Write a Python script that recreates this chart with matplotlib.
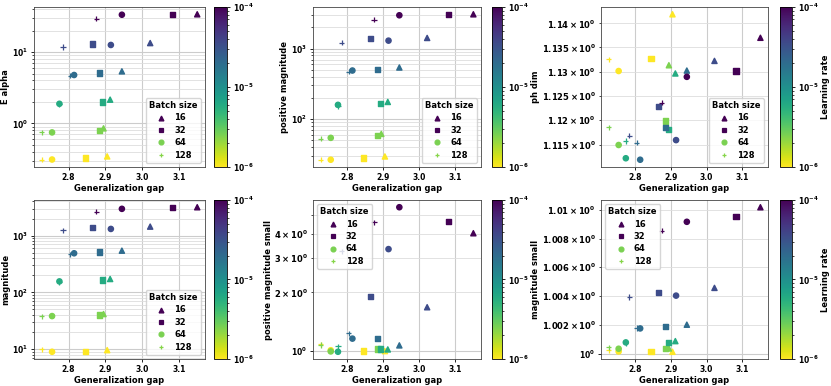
import numpy as np
import matplotlib
matplotlib.use('Agg')
import matplotlib.pyplot as plt
from matplotlib.colors import LogNorm
from matplotlib.lines import Line2D
from matplotlib.ticker import NullFormatter

plt.rcParams['font.family'] = ['DejaVu Sans']
plt.rcParams['font.weight'] = 'bold'
plt.rcParams['axes.labelweight'] = 'bold'
plt.rcParams['font.size'] = 6

# 学习率 (颜色) 和 batch size (形状)
lrs = [1e-6, 2.5e-6, 6e-6, 2e-5, 3.5e-5, 1e-4]
batch_sizes = [16, 32, 64, 128]
markers = ['^', 's', 'o', '+']

# generalization gap, rows = batch size, cols = learning rate
gap = [[2.905, 2.895, 2.913, 2.945, 3.022, 3.150],
       [2.845, 2.885, 2.893, 2.885, 2.865, 3.082],
       [2.755, 2.755, 2.775, 2.815, 2.915, 2.945],
       [2.727, 2.727, 2.775, 2.805, 2.785, 2.875]]

e_alpha = [[0.343, 0.85, 2.15, 5.37, 13.4, 34.0],
           [0.325, 0.795, 1.99, 5.08, 13.0, 34.0],
           [0.31, 0.745, 1.88, 4.77, 12.6, 33.5],
           [0.308, 0.745, 1.85, 4.66, 11.8, 29.4]]

pos_mag = [[29.4, 61.5, 175, 540, 1420, 3080],
           [27.9, 57.6, 166, 511, 1380, 3080],
           [26.4, 54.0, 159, 489, 1300, 2980],
           [26.4, 52.8, 152, 468, 1220, 2580]]

ph_dim = [[1.1419, 1.1313, 1.1296, 1.1302, 1.1322, 1.1370],
          [1.1327, 1.1198, 1.1180, 1.1185, 1.1228, 1.1301],
          [1.1301, 1.1149, 1.1122, 1.1119, 1.1159, 1.1289],
          [1.1325, 1.1185, 1.1157, 1.1154, 1.1168, 1.1236]]

magnitude = [[9.6, 41.5, 172, 543, 1440, 3160],
             [9.1, 39.8, 165, 515, 1370, 3080],
             [8.98, 38.2, 156, 488, 1310, 2960],
             [9.87, 37.7, 150, 469, 1230, 2620]]

pos_mag_small = [[1.0, 1.024, 1.02, 1.07, 1.68, 4.03],
                 [1.0, 1.024, 1.024, 1.159, 1.90, 4.65],
                 [1.01, 0.996, 0.992, 1.159, 3.34, 5.48],
                 [1.083, 1.075, 1.06, 1.235, 3.26, 4.58]]

mag_small = [[1.00012, 1.00035, 1.00086, 1.0020, 1.00456, 1.01019],
             [1.00014, 1.00033, 1.00079, 1.00186, 1.00421, 1.00956],
             [1.00014, 1.00033, 1.00077, 1.00174, 1.00402, 1.00917],
             [1.00021, 1.00042, 1.0007, 1.00177, 1.00393, 1.00856]]

panels = [(e_alpha, 'E alpha', 'lower right'),
          (pos_mag, 'positive magnitude', 'lower right'),
          (ph_dim, 'ph dim', 'lower right'),
          (magnitude, 'magnitude', 'lower right'),
          (pos_mag_small, 'positive magnitude small', 'upper left'),
          (mag_small, 'magnitude small', 'upper left')]

W, H = 831, 386
fig = plt.figure(figsize=(W / 100, H / 100), dpi=100)


def rect(l, t, r, b):
    return [l / W, 1 - b / H, (r - l) / W, (b - t) / H]


cols = [(34, 205, 214, 227), (313, 481, 492, 502), (601, 768, 780, 792)]
rows = [(7, 167), (200, 359)]
norm = LogNorm(vmin=1e-6, vmax=1e-4)
cmap = 'viridis_r'
legend_colors = ['#440154', '#440154', '#7ad151', '#86d549']

for k, (vals, ylabel, loc) in enumerate(panels):
    r, c = divmod(k, 3)
    ax = fig.add_axes(rect(cols[c][0], rows[r][0], cols[c][1], rows[r][1]))
    cax = fig.add_axes(rect(cols[c][2], rows[r][0], cols[c][3], rows[r][1]))
    for i, bs in enumerate(batch_sizes):
        kw = dict(s=14, marker=markers[i], c=lrs, cmap=cmap, norm=norm, zorder=3)
        if markers[i] == '+':
            kw['linewidths'] = 0.9
        sc = ax.scatter(gap[i], vals[i], **kw)
    ax.set_yscale('log')
    ax.grid(True, which='major', color='#cccccc', lw=0.8)
    ax.grid(True, which='minor', axis='y', color='#dddddd', lw=0.6)
    ax.set_axisbelow(True)
    ax.set_xticks([2.8, 2.9, 3.0, 3.1])
    ax.tick_params(labelsize=5.5, length=2.5, width=0.6, pad=2)
    ax.tick_params(which='minor', length=1.5, width=0.5, pad=2)
    ax.set_xlabel('Generalization gap', fontsize=6, labelpad=1)
    ax.set_ylabel(ylabel, fontsize=6, labelpad=1)
    for sp in ax.spines.values():
        sp.set_color('#444444')
        sp.set_linewidth(0.6)

    handles = [Line2D([], [], ls='', marker=m, color=col, markersize=3.5, mew=0.9)
               for m, col in zip(markers, legend_colors)]
    ax.legend(handles, [str(b) for b in batch_sizes], title='Batch size', loc=loc,
              fontsize=6, title_fontproperties={'weight': 'bold', 'size': 6},
              handletextpad=0.8, labelspacing=0.4, borderpad=0.4, handlelength=1.5)

    cb = fig.colorbar(sc, cax=cax)
    cb.outline.set_linewidth(0.6)
    cb.ax.yaxis.set_minor_formatter(NullFormatter())
    cb.ax.tick_params(labelsize=5.5, length=2.5, width=0.6, pad=2)
    cb.ax.tick_params(which='minor', length=1.5, width=0.5)
    if c == 2:
        cb.set_label('Learning rate', fontsize=6)
        cb.ax.yaxis.set_label_coords(3.45, 0.5)

fig.savefig('out.png', dpi=100)
